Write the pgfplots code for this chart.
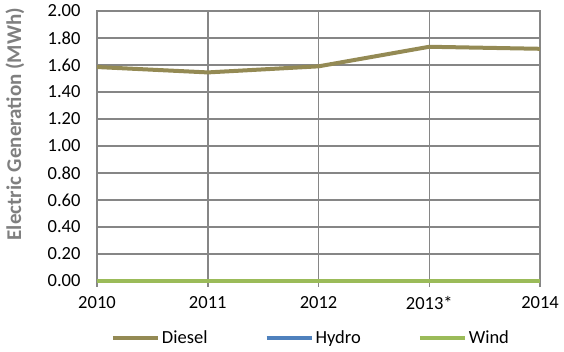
\documentclass[border=0pt]{standalone}
\usepackage{pgfplots}
\pgfplotsset{compat=1.18}
\usepackage{fontspec}
\setmainfont{Carlito}
\definecolor{gridgray}{HTML}{868686}
\definecolor{diesel}{HTML}{948A54}
\definecolor{hydro}{HTML}{4F81BD}
\definecolor{wind}{HTML}{9BBB59}
\definecolor{labgray}{HTML}{7F7F7F}

\begin{document}
\begin{tikzpicture}[x=1pt,y=1pt]
\begin{axis}[
    at={(97pt,71pt)}, anchor=south west,
    scale only axis,
    width=443pt, height=270pt,
    clip=false,
    xmin=0, xmax=4,
    ymin=0, ymax=2,
    xtick={0,1,2,3,4},
    xticklabels={2010,2011,2012,2013*,2014},
    ytick={0,0.2,...,2.01},
    /pgf/number format/assume math mode=true,
    yticklabel style={xshift=-7pt, /pgf/number format/.cd,fixed,fixed zerofill,precision=2},
    ticklabel style={font=\fontsize{18.5}{20}\selectfont},
    xticklabel style={yshift=-6pt},
    xtick style={draw=gridgray, line width=1.5pt},
    ytick style={draw=none},
    tick align=outside,
    major tick length=6pt,
    xtick pos=bottom,
    grid=major,
    major grid style={draw=gridgray, line width=1.5pt},
    axis line style={draw=gridgray, line width=1.5pt},
    ylabel={Electric Generation (MWh)},
    ylabel style={font=\fontsize{21}{23}\selectfont\bfseries, color=labgray,
        at={(rel axis cs:-0.185,0.581)}, anchor=center},
    legend columns=3,
    legend style={draw=none, fill=none, at={(0.483,-0.21)}, anchor=center,
        font=\fontsize{18.5}{20}\selectfont,
        /tikz/every even column/.append style={column sep=55pt}},
    legend image code/.code={\draw[#1] (0pt,0pt) -- (45pt,0pt);},
    legend cell align=left,
]
\addplot[diesel, line width=4pt] coordinates {(0,1.585) (1,1.545) (2,1.59) (3,1.735) (4,1.72)};
\addlegendentry{Diesel}
\addplot[hydro, line width=4pt] coordinates {(0,0) (1,0) (2,0) (3,0) (4,0)};
\addlegendentry{Hydro}
\addplot[wind, line width=4pt] coordinates {(0,0) (1,0) (2,0) (3,0) (4,0)};
\addlegendentry{Wind}
\end{axis}
\pgfresetboundingbox
\path (0,0) rectangle (564,352);
\end{tikzpicture}
\end{document}
